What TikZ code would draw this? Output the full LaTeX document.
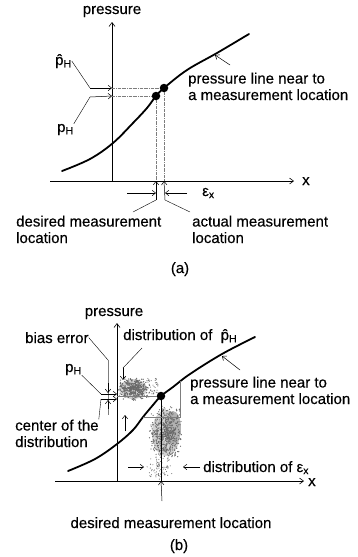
\documentclass[tikz,border=0pt]{standalone}
\usepackage{fontspec}
\setmainfont[FakeBold=0.3]{Liberation Sans}
\usetikzlibrary{arrows.meta}
\definecolor{guidegray}{RGB}{125,125,125}
\definecolor{speckgray}{RGB}{105,105,105}

\begin{document}
\begin{tikzpicture}[x=1pt,y=-1pt,
    font=\fontsize{15}{16.5}\selectfont,
    txt/.style={inner sep=0pt,anchor=base west,align=left},
    ctxt/.style={inner sep=0pt,anchor=base},
    ptr/.style={line width=0.5pt,-{Straight Barb[length=3.5pt,width=5.5pt]}},
    leader/.style={line width=0.4pt},
    axisln/.style={line width=0.6pt,-{Straight Barb[length=4pt,width=6pt]}},
    pline/.style={line width=1.8pt,line cap=round},
    guide/.style={line width=0.5pt,guidegray,densely dash dot},
    thin/.style={line width=0.4pt,guidegray},
    spot/.style={fill=black,circle,inner sep=0pt,minimum size=8.5pt},
    speck/.style={fill=speckgray}]
  \useasboundingbox (0,0) rectangle (357,557);

  % ---------------- (a) ----------------
  % axes
  \coordinate (oa) at (112,181);
  \coordinate (ya) at (112,22);
  \coordinate (xa0) at (50,181);
  \coordinate (xa) at (294,181);
  \draw[axisln] (oa) -- (ya);
  \draw[axisln] (xa0) -- (xa);
  \node[ctxt] (pa) at (112,14) {pressure};
  \node[txt] (xla) at (302,185) {x};
  % pressure line
  \draw[pline] plot[smooth,tension=0.6] coordinates
    {(62,171) (90,159) (113,143) (133,123) (147,108) (156,96) (164,88) (187,70) (217,53) (249,34)};
  \node[spot] (d1) at (156,96) {};
  \node[spot] (d2) at (164,88) {};
  % guide lines
  \draw[guide] (d1) -- (d1 |- oa);
  \draw[guide] (d2) -- (d2 |- oa);
  \draw[guide] (oa |- d1) -- (d1);
  \draw[guide] (oa |- d2) -- (d2);
  % p_H and p-hat arrows
  \node[txt] (phat) at (55,65) {\^{p}\textsubscript{H}};
  \node[txt] (pha) at (57,132) {p\textsubscript{H}};
  \coordinate (kh) at (90,88);
  \coordinate (kp) at (90,97);
  \draw[leader] (phat.east) -- (kh);
  \draw[leader] (pha.north east) -- (kp);
  \draw[ptr] (kh) -- (oa |- d2);
  \draw[ptr] (kp) -- (oa |- d1);
  % measurement locations
  \coordinate (da) at (156,200);
  \coordinate (aa) at (165,200);
  \coordinate (dla) at (133,212);
  \coordinate (ala) at (190,212);
  \draw[ptr] (da) -- (d1 |- oa);
  \draw[ptr] (aa) -- (d2 |- oa);
  \draw[leader] (da) -- (dla);
  \draw[leader] (aa) -- (ala);
  \coordinate (ea1) at (127,193);
  \coordinate (ea2) at (187,193);
  \draw[ptr] (ea1) -- (da |- ea1);
  \draw[ptr] (ea2) -- (aa |- ea1);
  \node[txt] (epsa) at (202,196) {ε\textsubscript{x}};
  \node[txt] (desa) at (16,243) {desired measurement\\location};
  \node[txt] (acta) at (192,243) {actual measurement\\location};
  % curve label
  \node[txt] (pla) at (188,100) {pressure line near to\\a measurement location};
  \coordinate (ca) at (215,55);
  \draw[ptr] (230,65) coordinate (la) -- (ca);
  \node[ctxt] (capa) at (180,273) {(a)};

  % ---------------- (b) ----------------
  % scatter of the distributions
  \fill[gray!35] (133,389) ellipse (14 and 10);
  \fill[gray!35] (166,433) ellipse (14 and 23);
  \fill[gray!60] (173,428) ellipse (8 and 17);
  \pgfmathsetseed{11}
  \foreach \i in {1,...,380}{
    \pgfmathsetmacro{\dx}{17*(rand+rand)/2}
    \pgfmathsetmacro{\dy}{12*(rand+rand)/2}
    \fill[speck] (134+\dx,389+\dy) circle (0.7);
  }
  \foreach \i in {1,...,600}{
    \pgfmathsetmacro{\dx}{17*(rand+rand)/2}
    \pgfmathsetmacro{\dy}{28*(rand+rand)/2}
    \fill[speck] (166+\dx,433+\dy) circle (0.65);
  }
  \foreach \i in {1,...,80}{
    \pgfmathsetmacro{\dx}{16*(rand+rand)/2}
    \pgfmathsetmacro{\dy}{12*(rand+rand)/2}
    \fill[speck] (160+\dx,468+\dy) circle (0.55);
  }
  \foreach \i in {1,...,40}{
    \pgfmathsetmacro{\dx}{6*rand}
    \pgfmathsetmacro{\dy}{8*rand}
    \fill[speck] (152+\dx,386+\dy) circle (0.55);
  }
  % axes
  \coordinate (ob) at (117,481);
  \coordinate (yb) at (117,323);
  \coordinate (xb0) at (55,481);
  \coordinate (xb) at (304,481);
  \draw[axisln] (ob) -- (yb);
  \draw[axisln] (xb0) -- (xb);
  \node[ctxt] (pb) at (114,316) {pressure};
  \node[txt] (xlb) at (308,486) {x};
  % pressure line
  \draw[pline] plot[smooth,tension=0.6] coordinates
    {(68,471) (95,459) (117,444) (133,430) (143,417) (153,405) (161,396) (173,387) (190,374) (222,354) (255,337)};
  \node[spot] (db) at (161,396) {};
  \draw[thin] (ob |- db) -- (db);
  \draw[line width=0.5pt] (db) -- (db |- ob);
  \coordinate (bx1) at (143,417);
  \coordinate (bx2) at (180,417);
  \coordinate (bx3) at (180,381);
  \draw[thin] (bx1) -- (bx2) -- (bx3);
  % bias error
  \node[txt] (bias) at (25,343) {bias error};
  \coordinate (bk) at (108,360);
  \coordinate (bb) at (108,415);
  \draw[leader] (bias.east) -- (bk);
  \draw[thin] (bk) -- (bb);
  \draw[ptr] (108,383) coordinate (bu) -- (108,393);
  \draw[ptr] (108,409) coordinate (bl) -- (108,400);
  % p_H and centre of the distribution
  \node[txt] (phb) at (65,372) {p\textsubscript{H}};
  \node[txt] (cen) at (15,447) {center of the\\distribution};
  \coordinate (kpb) at (101,394);
  \coordinate (kcb) at (101,399);
  \draw[leader] (phb.south east) -- (kpb);
  \draw[leader] (cen.north east) -- (kcb);
  \draw[ptr] (kpb) -- (ob |- kpb);
  \draw[ptr] (kcb) -- (ob |- kcb);
  % distribution of p-hat
  \node[txt] (dph) at (123,340) {distribution of \ \^{p}\textsubscript{H}};
  \coordinate (dk) at (123,368);
  \draw[leader] (142,348) coordinate (ds) -- (dk);
  \draw[ptr] (dk) -- (123,380);
  % curve label
  \node[txt] (plb) at (190,404) {pressure line near to\\a measurement location};
  \coordinate (cb) at (222,356);
  \draw[ptr] (240,370) coordinate (lb) -- (cb);
  % small arrows in the scatter
  \draw[ptr] (125,431) coordinate (su) -- (125,415);
  \draw[ptr] (128,467) coordinate (sr) -- (144,467);
  \node[txt] (dex) at (203,472) {distribution of ε\textsubscript{x}};
  \draw[ptr] (dex.west |- sr) ++(-3,0) coordinate (sl) -- (183,467);
  % desired location
  \coordinate (dmb) at (162,501);
  \draw[ptr] (dmb) -- (db |- ob);
  \node[ctxt] (desb) at (171,528) {desired measurement location};
  \node[ctxt] (capb) at (179,550) {(b)};
\end{tikzpicture}
\end{document}
